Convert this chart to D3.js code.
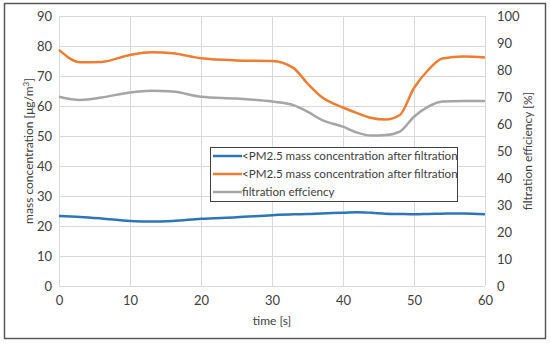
<!DOCTYPE html>
<html>
<head>
<meta charset="utf-8">
<script src="https://cdn.jsdelivr.net/npm/d3@7"></script>
<style>
  body { margin: 0; background: #fff; }
  text { font-family: Lato, "Open Sans", sans-serif; fill: #404040; }
</style>
</head>
<body>
<div id="chart"></div>
<script>
// data
var time = [0, 3, 6, 10, 13, 16, 20, 25, 30, 33, 35, 37, 40, 42, 44, 46, 48, 50, 52, 54, 57, 60];
var afterFiltration = [23.3, 23.0, 22.5, 21.7, 21.5, 21.7, 22.4, 22.9, 23.6, 23.9, 24.0, 24.2, 24.4, 24.6, 24.4, 24.1, 24.0, 23.9, 24.0, 24.1, 24.2, 23.9];
var beforeFiltration = [78.7, 74.6, 74.7, 77.0, 77.9, 77.6, 75.9, 75.2, 75.0, 72.7, 67.5, 63.0, 59.5, 57.6, 56.0, 55.5, 57.0, 66.0, 72.0, 75.8, 76.5, 76.2];
var efficiency = [70.1, 68.9, 69.8, 71.7, 72.3, 72.0, 70.1, 69.4, 68.3, 67.0, 64.6, 61.5, 59.0, 56.8, 55.7, 55.9, 57.2, 62.7, 66.4, 68.3, 68.5, 68.5];
var legendLabels = ["<PM2.5 mass concentration after filtration", "<PM2.5 mass concentration after filtration", "filtration effciency"];
var colors = ["#2E75B6", "#ED7D31", "#A5A5A5"];

var W = 550, H = 344;
var margin = {top: 16, right: 65, bottom: 58, left: 59},
    width = W - margin.left - margin.right,
    height = H - margin.top - margin.bottom;

var svg = d3.select("#chart").append("svg")
    .attr("width", W)
    .attr("height", H);

// outer frame
svg.append("rect")
    .attr("x", 4.5).attr("y", 3.5)
    .attr("width", 541).attr("height", 335)
    .attr("fill", "none").attr("stroke", "#595959").attr("stroke-width", 1.5);

var g = svg.append("g").attr("transform", "translate(" + margin.left + "," + margin.top + ")");

var x = d3.scaleLinear().domain([0, 60]).range([0, width]);
var yL = d3.scaleLinear().domain([0, 90]).range([height, 0]);
var yR = d3.scaleLinear().domain([0, 100]).range([height, 0]);

// grid
g.append("g").selectAll("line").data(d3.range(0, 91, 10)).enter().append("line")
    .attr("x1", 0).attr("x2", width)
    .attr("y1", d => yL(d) + 0.5).attr("y2", d => yL(d) + 0.5)
    .attr("stroke", "#d9d9d9");
g.append("g").selectAll("line").data(d3.range(0, 61, 10)).enter().append("line")
    .attr("y1", 0).attr("y2", height)
    .attr("x1", d => x(d) + 0.5).attr("x2", d => x(d) + 0.5)
    .attr("stroke", "#d9d9d9");

// axes (text only)
var axL = g.append("g").call(d3.axisLeft(yL).tickValues(d3.range(0, 91, 10)).tickSize(0).tickPadding(7));
var axR = g.append("g").attr("transform", "translate(" + width + ",0)")
    .call(d3.axisRight(yR).tickValues(d3.range(0, 101, 10)).tickSize(0).tickPadding(12));
var axB = g.append("g").attr("transform", "translate(0," + height + ")")
    .call(d3.axisBottom(x).tickValues(d3.range(0, 61, 10)).tickSize(0).tickPadding(10));
[axL, axR, axB].forEach(function(a) {
    a.select(".domain").remove();
    a.selectAll("text").style("font-size", "13px").attr("fill", "#404040").style("font-family", "Lato, sans-serif");
});

// axis titles
svg.append("text")
    .attr("transform", "translate(29," + (margin.top + height / 2) + ") rotate(-90)")
    .attr("text-anchor", "middle").attr("dy", "0.35em")
    .style("font-size", "12px")
    .html("mass concentration [μg/m<tspan dy='-4' style='font-size:8px'>3</tspan><tspan dy='4'>]</tspan>");
svg.append("text")
    .attr("transform", "translate(528," + (margin.top + height / 2) + ") rotate(-90)")
    .attr("text-anchor", "middle").attr("dy", "0.35em")
    .style("font-size", "12px")
    .text("filtration efficiency [%]");
svg.append("text")
    .attr("x", margin.left + width / 2).attr("y", 321)
    .attr("text-anchor", "middle").attr("dy", "0.35em")
    .style("font-size", "12px")
    .text("time [s]");

// lines
var lineL = d3.line().x((d, i) => x(time[i])).y(d => yL(d)).curve(d3.curveMonotoneX);
var lineR = d3.line().x((d, i) => x(time[i])).y(d => yR(d)).curve(d3.curveMonotoneX);

g.append("path").datum(efficiency).attr("d", lineR)
    .attr("fill", "none").attr("stroke", colors[2]).attr("stroke-width", 2.5);
g.append("path").datum(beforeFiltration).attr("d", lineL)
    .attr("fill", "none").attr("stroke", colors[1]).attr("stroke-width", 2.5);
g.append("path").datum(afterFiltration).attr("d", lineL)
    .attr("fill", "none").attr("stroke", colors[0]).attr("stroke-width", 2.5);

// legend
var leg = svg.append("g").attr("transform", "translate(210,147)");
leg.append("rect").attr("x", 0.5).attr("y", 0.5).attr("width", 247).attr("height", 54)
    .attr("fill", "#fff").attr("stroke", "#404040").attr("stroke-width", 1);
legendLabels.forEach(function(l, i) {
    var yy = 9 + i * 18;
    leg.append("line").attr("x1", 3).attr("x2", 32).attr("y1", yy).attr("y2", yy)
        .attr("stroke", colors[i]).attr("stroke-width", 2.5);
    leg.append("text").attr("x", 32).attr("y", yy).attr("dy", "0.35em")
        .style("font-size", "11.6px").attr("fill", "#222")
        .text(l);
});
</script>
</body>
</html>
